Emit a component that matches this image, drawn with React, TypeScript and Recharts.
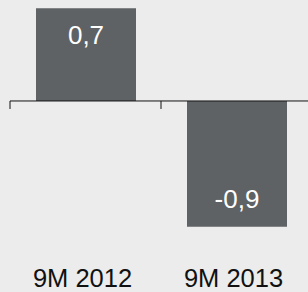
import { BarChart, Bar, XAxis, YAxis, ReferenceLine, LabelList } from "recharts"

// values
const categories = ["9M 2012", "9M 2013"]
const values = [0.664, -0.9]
const yDomain = [-0.9, 0.7]

const data = categories.map((name, i) => ({ name, value: values[i] }))

const fmt = (v: number) => v.toFixed(1).replace(".", ",")

const FONT = "'Liberation Sans', Arial, sans-serif"

const BarValue = (props: any) => {
  const { x, y, width, height, value } = props
  const top = Math.min(y, y + height)
  const bottom = Math.max(y, y + height)
  const ty = value >= 0 ? top + 35.5 : bottom - 18.4
  return (
    <text x={x + width / 2} y={ty} textAnchor="middle" fill="#ffffff" fontSize={26} fontFamily={FONT}>
      {fmt(value)}
    </text>
  )
}

const CategoryTick = (props: any) => {
  const { x, y, payload } = props
  return (
    <text x={x - 3} y={y + 59.8} textAnchor="middle" fill="#111111" fontSize={25.5} fontFamily={FONT}>
      {payload.value}
    </text>
  )
}

// zero line with small tick marks at the category boundaries
const ZeroAxis = (props: any) => {
  const { x1, x2, y1 } = props
  const n = categories.length
  const step = (x2 - x1) / n
  const ticks = Array.from({ length: n + 1 }, (_, i) => x1 + i * step)
  return (
    <g>
      <line x1={x1} x2={x2} y1={y1} y2={y1} stroke="#111" strokeWidth={1} />
      {ticks.map((tx, i) => (
        <line key={i} x1={tx} x2={tx} y1={y1} y2={y1 + 8} stroke="#111" strokeWidth={1} />
      ))}
    </g>
  )
}

export default function App() {
  return (
    <div style={{ width: 308, height: 292, background: "#ebeceb", overflow: "hidden" }}>
      <style>{`body{margin:0}`}</style>
      <BarChart
        width={308}
        height={292}
        data={data}
        margin={{ top: 3.2, right: -4, bottom: 5.3, left: 10 }}
        barSize={100}
      >
        <XAxis
          dataKey="name"
          axisLine={false}
          tickLine={false}
          tickSize={0}
          tickMargin={0}
          height={60}
          interval={0}
          tick={<CategoryTick />}
        />
        <YAxis hide domain={yDomain} />
        <ReferenceLine y={0} shape={<ZeroAxis />} />
        <Bar dataKey="value" fill="#5f6265" isAnimationActive={false}>
          <LabelList dataKey="value" content={<BarValue />} />
        </Bar>
      </BarChart>
    </div>
  )
}
